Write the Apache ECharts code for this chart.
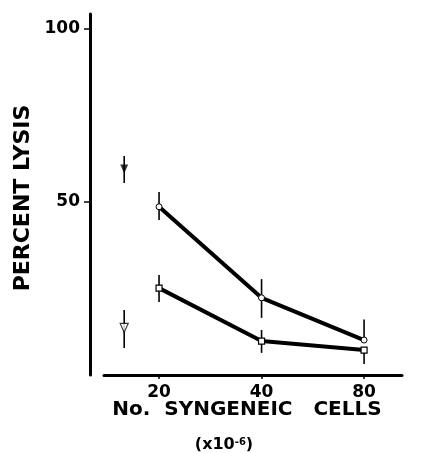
<!DOCTYPE html>
<html>
<head>
<meta charset="utf-8">
<script src="https://cdn.jsdelivr.net/npm/echarts@6/dist/echarts.min.js"></script>
<style>
  html, body { margin: 0; padding: 0; background: #fff; }
  #chart { width: 424px; height: 453px; }
</style>
</head>
<body>
<div id="chart"></div>
<script>
// x positions: 0 -> 20, 1 -> 40, 2 -> 80 (control sits left of 20)
var xTicks = ['20', '40', '80'];
var xPos = [0, 1, 2];

var circleVals = [48.6, 22.3, 10.1];
var circleLow = [44.8, 16.5, 10.1];
var circleHigh = [52.9, 27.7, 16];

var squareVals = [25.1, 9.8, 7.2];
var squareLow = [21.1, 6.4, 3.2];
var squareHigh = [28.9, 13, 7.2];

var controlX = -0.34;
var controlVals = [59.5, 13.6];   // filled, open
var controlLow = [55.5, 7.8];
var controlHigh = [63.3, 18.8];

var yTicks = [50, 100];

function pts(vals) {
  return vals.map(function (v, i) { return [xPos[i], v]; });
}
function bars(low, high) {
  return low.map(function (l, i) { return [xPos[i], l, high[i]]; });
}

var errData = bars(circleLow, circleHigh).concat(bars(squareLow, squareHigh));
errData.push([controlX, controlLow[0], controlHigh[0]]);
errData.push([controlX, controlLow[1], controlHigh[1]]);

function renderBar(params, api) {
  var a = api.coord([api.value(0), api.value(1)]);
  var b = api.coord([api.value(0), api.value(2)]);
  return {
    type: 'line',
    shape: { x1: a[0], y1: a[1], x2: b[0], y2: b[1] },
    style: { stroke: '#000', lineWidth: 1.6 }
  };
}

var font = '"DejaVu Sans", "Liberation Sans", sans-serif';

var option = {
  animation: false,
  backgroundColor: '#fff',
  grid: { left: 104, right: 22, top: 14, bottom: 78 },
  xAxis: {
    type: 'value',
    min: -0.537,
    max: 2.37,
    splitLine: { show: false },
    axisLine: { show: true, onZero: false, lineStyle: { color: '#000', width: 3 } },
    axisTick: { show: true, customValues: xPos, length: 4, lineStyle: { color: '#000', width: 1.5 } },
    axisLabel: {
      customValues: xPos,
      margin: 9,
      color: '#000',
      fontFamily: font,
      fontWeight: 'bold',
      fontSize: 17,
      formatter: function (v) { return xTicks[xPos.indexOf(v)]; }
    }
  },
  yAxis: {
    type: 'value',
    min: 0,
    max: 104.3,
    offset: 14,
    splitLine: { show: false },
    axisLine: { show: true, onZero: false, lineStyle: { color: '#000', width: 3 } },
    axisTick: { show: true, customValues: yTicks, length: 6, lineStyle: { color: '#000', width: 1.5 } },
    axisLabel: {
      customValues: yTicks,
      margin: 10,
      color: '#000',
      fontFamily: font,
      fontWeight: 'bold',
      fontSize: 17
    }
  },
  graphic: [
    {
      type: 'text', x: 23, y: 198, rotation: Math.PI / 2,
      style: {
        text: 'PERCENT LYSIS', fill: '#000', fontFamily: font, fontWeight: 'bold',
        fontSize: 22, align: 'center', verticalAlign: 'middle'
      }
    },
    {
      type: 'text', x: 247, y: 410,
      style: {
        text: 'No.  SYNGENEIC   CELLS', fill: '#000', fontFamily: font, fontWeight: 'bold',
        fontSize: 20, align: 'center', verticalAlign: 'middle'
      }
    },
    {
      type: 'text', x: 224, y: 445,
      style: {
        text: '(x10{sup|-6})', fill: '#000', fontFamily: font, fontWeight: 'bold',
        fontSize: 16, align: 'center', verticalAlign: 'middle',
        rich: { sup: { fontSize: 10, fontWeight: 'bold', fontFamily: font, verticalAlign: 'top', fill: '#000' } }
      }
    }
  ],
  series: [
    {
      type: 'custom',
      z: 1,
      renderItem: renderBar,
      data: errData
    },
    {
      type: 'line',
      z: 3,
      data: pts(circleVals),
      symbol: 'circle',
      symbolSize: 6,
      itemStyle: { color: '#fff', borderColor: '#000', borderWidth: 1 },
      lineStyle: { color: '#000', width: 4 }
    },
    {
      type: 'line',
      z: 3,
      data: pts(squareVals),
      symbol: 'rect',
      symbolSize: 6,
      itemStyle: { color: '#fff', borderColor: '#000', borderWidth: 1.2 },
      lineStyle: { color: '#000', width: 4 }
    },
    {
      type: 'scatter',
      z: 3,
      data: [[controlX, controlVals[0]]],
      symbol: 'triangle',
      symbolRotate: 180,
      symbolSize: [8, 9],
      itemStyle: { color: '#000' }
    },
    {
      type: 'scatter',
      z: 3,
      data: [[controlX, controlVals[1]]],
      symbol: 'triangle',
      symbolRotate: 180,
      symbolSize: [8, 9],
      itemStyle: { color: '#fff', borderColor: '#000', borderWidth: 1.2 }
    }
  ]
};

var myChart = echarts.init(document.getElementById('chart'));
myChart.setOption(option);
</script>
</body>
</html>
